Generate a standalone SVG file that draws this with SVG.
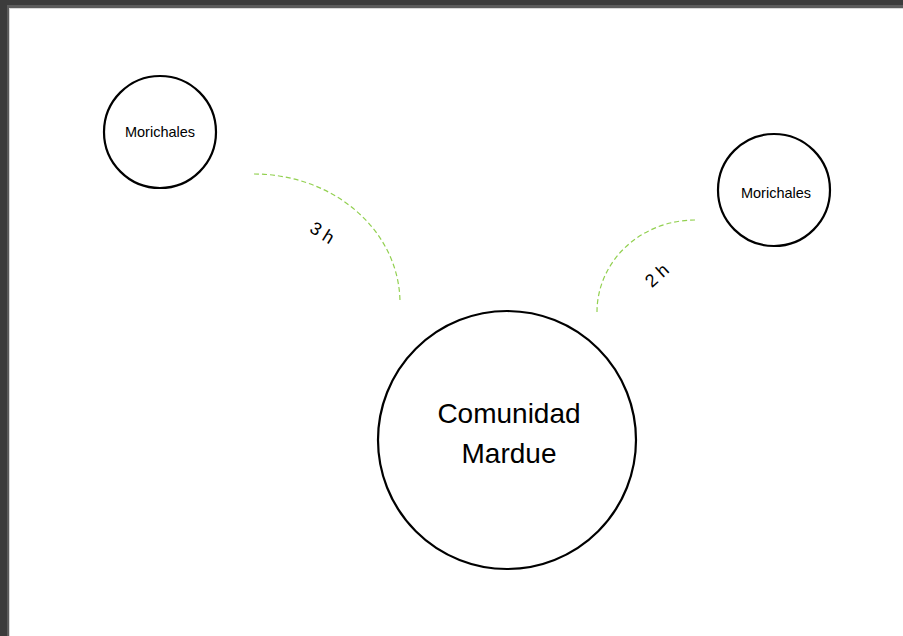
<svg xmlns="http://www.w3.org/2000/svg" width="903" height="636" viewBox="0 0 903 636">
<style>
.node{fill:#fff;stroke:#000;stroke-width:2.2}
.lbl{font-family:"Liberation Sans",Arial,sans-serif;fill:#000;text-anchor:middle}
.conn{fill:none;stroke:#92d050;stroke-width:1.2;stroke-dasharray:5 3}
</style>
<rect x="0" y="0" width="903" height="636" fill="#3c3c3c"/>
<rect x="7" y="5" width="896" height="631" fill="#5c5c5c"/>
<rect x="9" y="8" width="894" height="628" fill="#d8d8d8"/>
<rect x="10" y="9" width="893" height="627" fill="#fff"/>
<g id="connectors">
<path class="conn" d="M254,174 A146,129 0 0 1 400,303"/>
<path class="conn" d="M695,220 A98,92 0 0 0 597,312"/>
<text class="lbl" font-size="18" transform="translate(319,238) rotate(32)">3 h</text>
<text class="lbl" font-size="18" transform="translate(661,280) rotate(-42)">2 h</text>
</g>
<g id="morichales1">
<circle class="node" cx="160" cy="132" r="56"/>
<text class="lbl" x="160" y="137" font-size="14.5">Morichales</text>
</g>
<g id="morichales2">
<circle class="node" cx="774" cy="190" r="56"/>
<text class="lbl" x="776" y="198" font-size="14.5">Morichales</text>
</g>
<g id="comunidad">
<circle class="node" cx="507" cy="440" r="129"/>
<text class="lbl" x="509" y="423" font-size="28">Comunidad</text>
<text class="lbl" x="509" y="463" font-size="28">Mardue</text>
</g>
</svg>
